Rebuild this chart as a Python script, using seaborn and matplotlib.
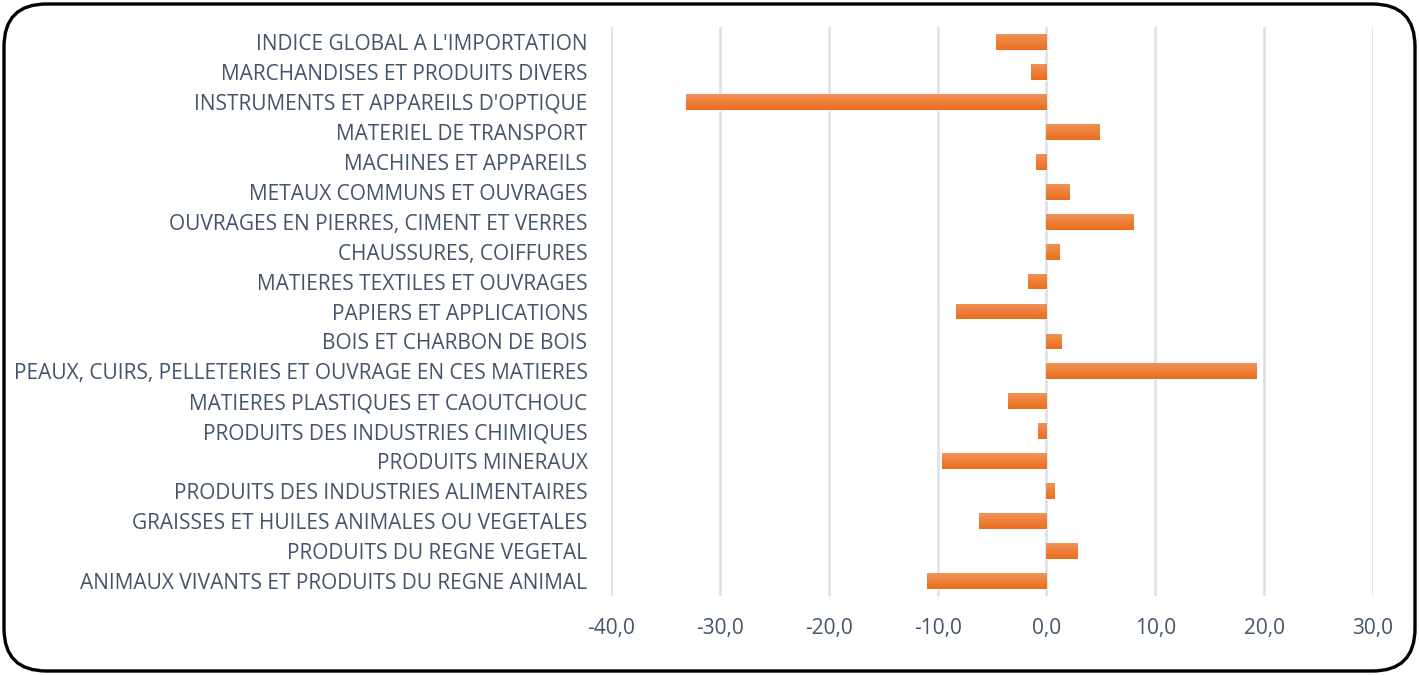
import numpy as np
import pandas as pd
import matplotlib
matplotlib.use("Agg")
import matplotlib.pyplot as plt
import matplotlib.patches as mpatches
import seaborn as sns

# ── Data ──────────────────────────────────────────────────────────────────────
CATEGORIES = [
    "INDICE GLOBAL A L'IMPORTATION",
    "MARCHANDISES ET PRODUITS DIVERS",
    "INSTRUMENTS ET APPAREILS D'OPTIQUE",
    "MATERIEL DE TRANSPORT",
    "MACHINES ET APPAREILS",
    "METAUX COMMUNS ET OUVRAGES",
    "OUVRAGES EN PIERRES, CIMENT ET VERRES",
    "CHAUSSURES, COIFFURES",
    "MATIERES TEXTILES ET OUVRAGES",
    "PAPIERS ET APPLICATIONS",
    "BOIS ET CHARBON DE BOIS",
    "PEAUX, CUIRS, PELLETERIES ET OUVRAGE EN CES MATIERES",
    "MATIERES PLASTIQUES ET CAOUTCHOUC",
    "PRODUITS DES INDUSTRIES CHIMIQUES",
    "PRODUITS MINERAUX",
    "PRODUITS DES INDUSTRIES ALIMENTAIRES",
    "GRAISSES ET HUILES ANIMALES OU VEGETALES",
    "PRODUITS DU REGNE VEGETAL",
    "ANIMAUX VIVANTS ET PRODUITS DU REGNE ANIMAL",
]
VALUES = [-4.6, -1.4, -33.1, 4.9, -1.0, 2.2, 8.0, 1.2, -1.7, -8.3,
          1.4, 19.3, -3.5, -0.8, -9.6, 0.8, -6.2, 2.9, -11.0]
X_TICKS = [-40, -30, -20, -10, 0, 10, 20, 30]

TEXT_COLOR = "#44546A"
BAR_COLOR  = "#ED7D31"
GRID_COLOR = "#DEE3EA"

sns.set_style("white")
plt.rcParams["font.family"] = ["Open Sans", "DejaVu Sans"]

df = pd.DataFrame({"category": CATEGORIES, "value": VALUES})

fig = plt.figure(figsize=(14.19, 6.75), dpi=100)
ax = fig.add_axes([611 / 1419, 79 / 675, 762 / 1419, 569 / 675])

sns.barplot(data=df, x="value", y="category", orient="h", color=BAR_COLOR,
            width=0.53, saturation=1, ax=ax, zorder=3)

# vertical gradient on each bar (lighter top, darker bottom)
grad = np.linspace(0, 1, 64).reshape(-1, 1)
cmap = matplotlib.colors.LinearSegmentedColormap.from_list(
    "bar", ["#F29257", "#E96E1C"])
for p in ax.patches:
    x0, y0 = p.get_x(), p.get_y()
    w, h = p.get_width(), p.get_height()
    im = ax.imshow(grad, cmap=cmap, aspect="auto", zorder=4,
                   extent=(x0, x0 + w, y0 + h, y0), interpolation="bilinear")
    im.set_clip_path(p)

ax.set_xlim(-40, 30)
ax.set_ylim(len(CATEGORIES) - 0.5, -0.5)
ax.set_xticks(X_TICKS)
ax.set_xticklabels([f"{t:.1f}".replace(".", ",") for t in X_TICKS])
ax.set_xlabel("")
ax.set_ylabel("")
ax.grid(axis="x", color=GRID_COLOR, linewidth=2, zorder=0)
ax.grid(axis="y", visible=False)
for s in ax.spines.values():
    s.set_visible(False)
ax.tick_params(axis="both", length=0, labelsize=15, colors=TEXT_COLOR)
ax.tick_params(axis="y", pad=17)
ax.tick_params(axis="x", pad=16)

# rounded border around the whole chart
border = mpatches.FancyBboxPatch((4 / 1419, 4 / 675), 1411 / 1419, 667 / 675,
                                 boxstyle="round,pad=0,rounding_size=0.03",
                                 transform=fig.transFigure, fill=False,
                                 edgecolor="black", linewidth=2.4,
                                 mutation_aspect=1419 / 675)
fig.patches.append(border)

fig.savefig("out.png", dpi=100)
